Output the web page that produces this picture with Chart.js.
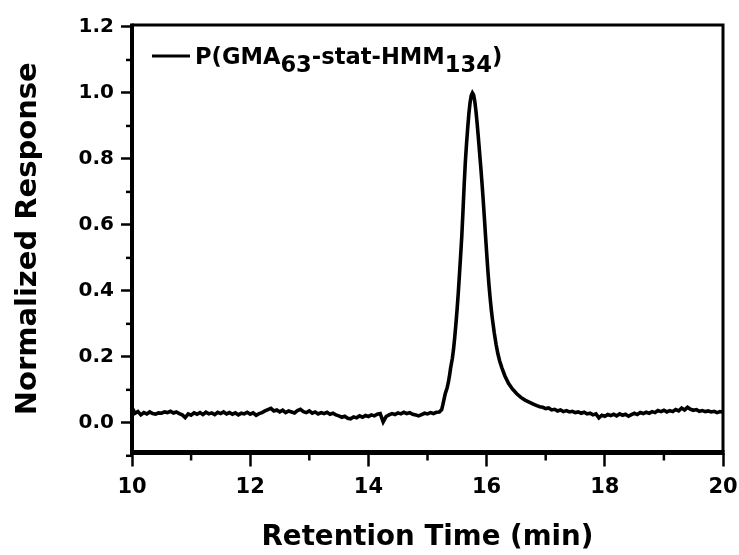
<!DOCTYPE html>
<html>
<head>
<meta charset="utf-8">
<script src="https://cdn.jsdelivr.net/npm/chart.js@4.4.1/dist/chart.umd.min.js"></script>
<style>
  html, body { margin: 0; padding: 0; background: #fff; }
  canvas { display: block; }
</style>
</head>
<body>
<canvas id="gpc" width="739" height="555"></canvas>
<script>
// GPC trace of P(GMA63-stat-HMM134): retention time (min) vs normalized RI response
const retentionTime = [
  10.00, 10.05, 10.10, 10.15, 10.20, 10.25, 10.30, 10.35, 10.40, 10.45,
  10.50, 10.55, 10.60, 10.65, 10.70, 10.75, 10.80, 10.85, 10.90, 10.95,
  11.00, 11.05, 11.10, 11.15, 11.20, 11.25, 11.30, 11.35, 11.40, 11.45,
  11.50, 11.55, 11.60, 11.65, 11.70, 11.75, 11.80, 11.85, 11.90, 11.95,
  12.00, 12.05, 12.10, 12.15, 12.20, 12.25, 12.30, 12.35, 12.40, 12.45,
  12.50, 12.55, 12.60, 12.65, 12.70, 12.75, 12.80, 12.85, 12.90, 12.95,
  13.00, 13.05, 13.10, 13.15, 13.20, 13.25, 13.30, 13.35, 13.40, 13.45,
  13.50, 13.55, 13.60, 13.65, 13.70, 13.75, 13.80, 13.85, 13.90, 13.95,
  14.00, 14.05, 14.10, 14.15, 14.20, 14.25, 14.30, 14.35, 14.40, 14.45,
  14.50, 14.55, 14.60, 14.65, 14.70, 14.75, 14.80, 14.85, 14.90, 14.95,
  15.00, 15.05, 15.10, 15.15, 15.20,
  15.24, 15.26, 15.28, 15.30, 15.33, 15.35, 15.37, 15.39, 15.42, 15.44,
  15.46, 15.48, 15.50, 15.52, 15.54, 15.56, 15.58, 15.60, 15.62, 15.64,
  15.66, 15.68, 15.70, 15.72, 15.74, 15.76, 15.78, 15.80, 15.82, 15.84,
  15.86, 15.88, 15.90, 15.92, 15.94, 15.96, 15.98, 16.00, 16.02, 16.04,
  16.06, 16.08, 16.10, 16.13, 16.16, 16.19, 16.22, 16.26, 16.31, 16.37,
  16.44, 16.51, 16.58, 16.65, 16.72, 16.79, 16.85,
  16.90, 16.95, 17.00, 17.05, 17.10, 17.15, 17.20, 17.25, 17.30, 17.35,
  17.40, 17.45, 17.50, 17.55, 17.60, 17.65, 17.70, 17.75, 17.80, 17.85,
  17.90, 17.95, 18.00, 18.05, 18.10, 18.15, 18.20, 18.25, 18.30, 18.35,
  18.40, 18.45, 18.50, 18.55, 18.60, 18.65, 18.70, 18.75, 18.80, 18.85,
  18.90, 18.95, 19.00, 19.05, 19.10, 19.15, 19.20, 19.25, 19.30, 19.35,
  19.40, 19.45, 19.50, 19.55, 19.60, 19.65, 19.70, 19.75, 19.80, 19.85,
  19.90, 19.95, 20.00
];

const response = [
  0.046, 0.029, 0.034, 0.024, 0.031, 0.027, 0.033, 0.028, 0.026, 0.030,
  0.029, 0.033, 0.031, 0.035, 0.030, 0.033, 0.028, 0.024, 0.016, 0.027,
  0.023, 0.030, 0.026, 0.031, 0.025, 0.032, 0.027, 0.030, 0.025, 0.032,
  0.028, 0.033, 0.027, 0.031, 0.026, 0.030, 0.024, 0.029, 0.027, 0.032,
  0.026, 0.030, 0.023, 0.028, 0.031, 0.036, 0.040, 0.044, 0.036, 0.039,
  0.033, 0.038, 0.031, 0.036, 0.033, 0.030, 0.037, 0.041, 0.034, 0.031,
  0.036, 0.029, 0.033, 0.027, 0.031, 0.028, 0.032, 0.026, 0.029, 0.024,
  0.021, 0.017, 0.020, 0.014, 0.012, 0.018, 0.015, 0.021, 0.017, 0.022,
  0.019, 0.024, 0.021, 0.026, 0.028, 0.003, 0.019, 0.024, 0.028, 0.025,
  0.030, 0.027, 0.032, 0.028, 0.031, 0.026, 0.024, 0.021, 0.025, 0.029,
  0.027, 0.031, 0.028, 0.032, 0.033,
  0.040, 0.055, 0.072, 0.088, 0.105, 0.120, 0.140, 0.165, 0.195, 0.222,
  0.258, 0.298, 0.342, 0.392, 0.448, 0.505, 0.565, 0.640, 0.720, 0.790,
  0.845, 0.893, 0.937, 0.970, 0.992, 1.000, 0.994, 0.975, 0.945, 0.908,
  0.866, 0.822, 0.778, 0.732, 0.682, 0.628, 0.572, 0.518, 0.465, 0.418,
  0.378, 0.342, 0.312, 0.272, 0.238, 0.210, 0.188, 0.166, 0.142, 0.120,
  0.102, 0.088, 0.077, 0.069, 0.063, 0.057, 0.052,
  0.049, 0.047, 0.043, 0.045, 0.039, 0.041, 0.036, 0.039, 0.034, 0.037,
  0.033, 0.035, 0.031, 0.033, 0.029, 0.032, 0.027, 0.029, 0.024, 0.027,
  0.015, 0.023, 0.020, 0.025, 0.022, 0.026, 0.021, 0.027, 0.023, 0.026,
  0.020, 0.025, 0.029, 0.025, 0.031, 0.028, 0.032, 0.029, 0.034, 0.031,
  0.037, 0.034, 0.038, 0.033, 0.037, 0.034, 0.040, 0.036, 0.045, 0.039,
  0.047, 0.041, 0.038, 0.040, 0.035, 0.037, 0.034, 0.036, 0.033, 0.035,
  0.031, 0.034, 0.032
];

const xMajorTicks = [10, 12, 14, 16, 18, 20];
const xMinorTicks = [11, 13, 15, 17, 19];
const yMajorTicks = [0.0, 0.2, 0.4, 0.6, 0.8, 1.0, 1.2];
const yMinorTicks = [-0.1, 0.1, 0.3, 0.5, 0.7, 0.9, 1.1];

const seriesName = 'P(GMA63-stat-HMM134)';
// legend text pieces: [text, isSubscript]
const legendParts = [['P(GMA', false], ['63', true], ['-stat-HMM', false], ['134', true], [')', false]];

const FONT = 'DejaVu Sans';

// Frame: heavy left/bottom axes, lighter top/right edges, minor tick marks and the legend
const framePlugin = {
  id: 'frame',
  afterDraw(chart) {
    const { ctx, chartArea: a, scales } = chart;
    ctx.save();
    ctx.strokeStyle = '#000';
    ctx.lineCap = 'butt';

    // minor ticks
    ctx.lineWidth = 2.5;
    xMinorTicks.forEach(v => {
      const px = scales.x.getPixelForValue(v);
      ctx.beginPath(); ctx.moveTo(px, a.bottom); ctx.lineTo(px, a.bottom + 8); ctx.stroke();
    });
    yMinorTicks.forEach(v => {
      const py = scales.y.getPixelForValue(v);
      ctx.beginPath(); ctx.moveTo(a.left, py); ctx.lineTo(a.left - 6, py); ctx.stroke();
    });

    // top and right edges
    ctx.lineWidth = 3;
    ctx.beginPath();
    ctx.moveTo(a.left, a.top); ctx.lineTo(a.right, a.top); ctx.lineTo(a.right, a.bottom);
    ctx.stroke();

    // left and bottom axes
    ctx.lineWidth = 4;
    ctx.beginPath(); ctx.moveTo(a.left, a.top - 1.5); ctx.lineTo(a.left, a.bottom + 2.5); ctx.stroke();
    ctx.lineWidth = 5;
    ctx.beginPath(); ctx.moveTo(a.left - 2, a.bottom); ctx.lineTo(a.right + 1.5, a.bottom); ctx.stroke();

    // legend with subscripts
    const lx = a.left + 20, ly = a.top + 31;
    ctx.lineWidth = 3;
    ctx.beginPath(); ctx.moveTo(lx, ly); ctx.lineTo(lx + 38, ly); ctx.stroke();
    ctx.fillStyle = '#000';
    ctx.font = 'bold 22.6px "' + FONT + '"';
    ctx.textBaseline = 'alphabetic';
    ctx.textAlign = 'left';
    let tx = lx + 43;
    const base = ly + 7.5;
    legendParts.forEach(([txt, sub]) => {
      ctx.fillText(txt, tx, sub ? base + 8 : base);
      tx += ctx.measureText(txt).width;
    });
    ctx.restore();
  }
};

new Chart(document.getElementById('gpc'), {
  type: 'line',
  data: {
    datasets: [{
      label: seriesName,
      data: retentionTime.map((t, i) => ({ x: t, y: response[i] })),
      borderColor: '#000',
      borderWidth: 3.6,
      pointRadius: 0,
      tension: 0,
      fill: false
    }]
  },
  options: {
    responsive: false,
    animation: false,
    devicePixelRatio: 1,
    layout: { padding: { left: 0, top: 25, right: 16, bottom: 0 } },
    plugins: { legend: { display: false }, tooltip: { enabled: false } },
    scales: {
      x: {
        type: 'linear',
        min: 10, max: 20,
        afterBuildTicks: s => { s.ticks = xMajorTicks.map(v => ({ value: v })); },
        afterFit: s => { s.height = 102.5; s.paddingLeft = 0; s.paddingRight = 0; },
        border: { display: false },
        grid: { drawOnChartArea: false, drawTicks: true, tickLength: 14, tickWidth: 2.5, tickColor: '#000' },
        ticks: {
          color: '#000', padding: 8,
          font: { family: FONT, weight: 'bold', size: 21 },
          maxRotation: 0
        },
        title: {
          display: true, text: 'Retention Time (min)', color: '#000',
          font: { family: FONT, weight: 'bold', size: 27.7, lineHeight: 1.2 },
          padding: { top: 0, bottom: 1 }
        }
      },
      y: {
        type: 'linear',
        min: -0.09, max: 1.206,
        afterBuildTicks: s => { s.ticks = yMajorTicks.map(v => ({ value: v })); },
        afterFit: s => { s.width = 132; s.paddingTop = 0; s.paddingBottom = 0; },
        border: { display: false },
        grid: { drawOnChartArea: false, drawTicks: true, tickLength: 11, tickWidth: 2.5, tickColor: '#000' },
        ticks: {
          color: '#000', padding: 7,
          font: { family: FONT, weight: 'bold', size: 20 },
          callback: v => v.toFixed(1)
        },
        title: {
          display: true, text: 'Normalized Response', color: '#000',
          font: { family: FONT, weight: 'bold', size: 29, lineHeight: 1.2 },
          padding: { top: 10.6, bottom: 0 }
        }
      }
    }
  },
  plugins: [framePlugin]
});
</script>
</body>
</html>
